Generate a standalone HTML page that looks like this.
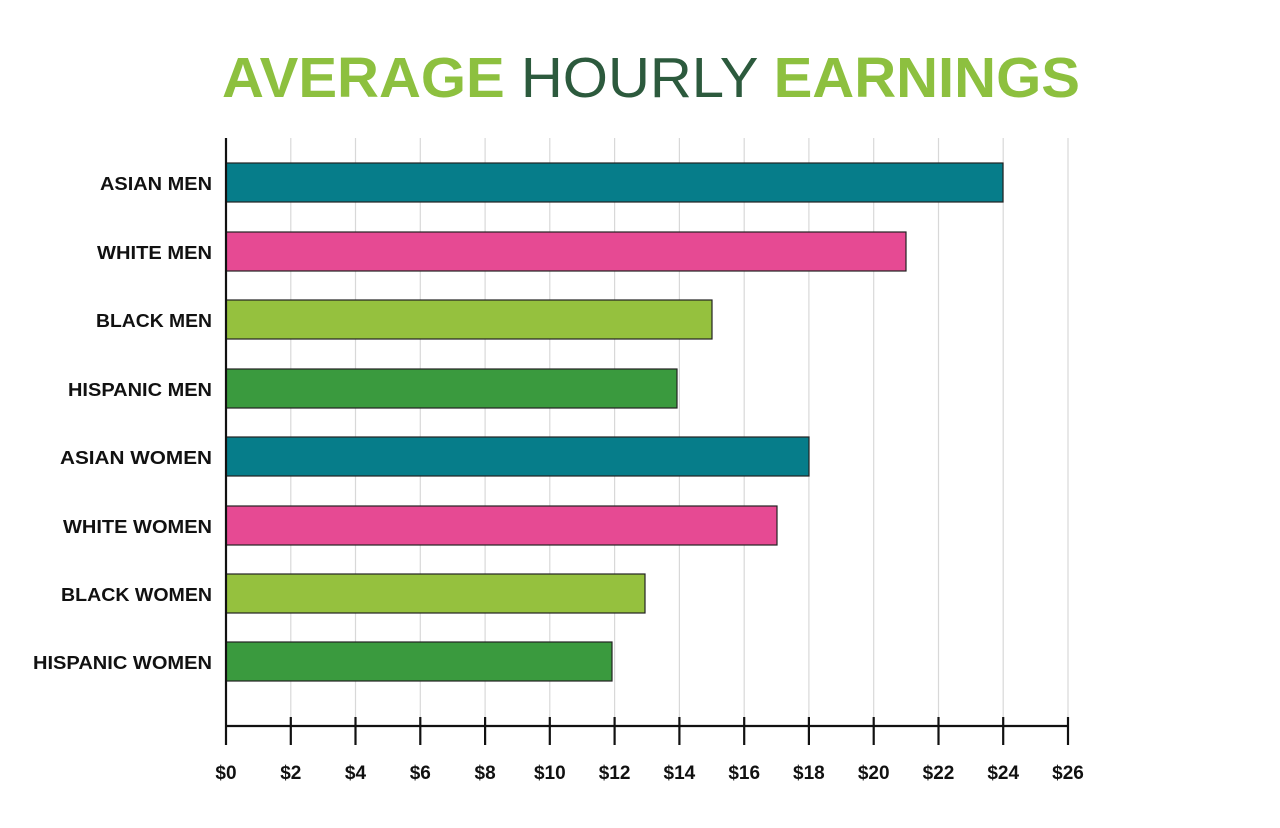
<!DOCTYPE html>
<html><head><meta charset="utf-8"><style>
html,body{margin:0;padding:0;background:#fff;}
svg{display:block;}
</style></head><body>
<svg width="1280" height="828" viewBox="0 0 1280 828" xmlns="http://www.w3.org/2000/svg" font-family="Liberation Sans, sans-serif">
<text x="651" y="97" text-anchor="middle" font-size="57" textLength="858" lengthAdjust="spacingAndGlyphs"><tspan fill="#8dc03f" font-weight="bold">AVERAGE</tspan><tspan fill="#2c5a3d"> HOURLY </tspan><tspan fill="#8dc03f" font-weight="bold">EARNINGS</tspan></text>
<g stroke="#d8d8d8" stroke-width="1.2">
<line x1="290.8" y1="138" x2="290.8" y2="726"/><line x1="355.5" y1="138" x2="355.5" y2="726"/><line x1="420.3" y1="138" x2="420.3" y2="726"/><line x1="485.1" y1="138" x2="485.1" y2="726"/><line x1="549.8" y1="138" x2="549.8" y2="726"/><line x1="614.6" y1="138" x2="614.6" y2="726"/><line x1="679.4" y1="138" x2="679.4" y2="726"/><line x1="744.2" y1="138" x2="744.2" y2="726"/><line x1="808.9" y1="138" x2="808.9" y2="726"/><line x1="873.7" y1="138" x2="873.7" y2="726"/><line x1="938.5" y1="138" x2="938.5" y2="726"/><line x1="1003.2" y1="138" x2="1003.2" y2="726"/><line x1="1068" y1="138" x2="1068" y2="726"/>
</g>
<g stroke="#222" stroke-width="1.2">
<rect x="226" y="163" width="777" height="39" fill="#067d8a"/>
<rect x="226" y="232" width="680" height="39" fill="#e64a93"/>
<rect x="226" y="300" width="486" height="39" fill="#95c13e"/>
<rect x="226" y="369" width="451" height="39" fill="#3a9a3e"/>
<rect x="226" y="437" width="583" height="39" fill="#067d8a"/>
<rect x="226" y="506" width="551" height="39" fill="#e64a93"/>
<rect x="226" y="574" width="419" height="39" fill="#95c13e"/>
<rect x="226" y="642" width="386" height="39" fill="#3a9a3e"/>
</g>
<g stroke="#111" stroke-width="2.2">
<line x1="226" y1="138" x2="226" y2="745"/>
<line x1="226" y1="726" x2="1068" y2="726"/>
<line x1="290.8" y1="717" x2="290.8" y2="745"/><line x1="355.5" y1="717" x2="355.5" y2="745"/><line x1="420.3" y1="717" x2="420.3" y2="745"/><line x1="485.1" y1="717" x2="485.1" y2="745"/><line x1="549.8" y1="717" x2="549.8" y2="745"/><line x1="614.6" y1="717" x2="614.6" y2="745"/><line x1="679.4" y1="717" x2="679.4" y2="745"/><line x1="744.2" y1="717" x2="744.2" y2="745"/><line x1="808.9" y1="717" x2="808.9" y2="745"/><line x1="873.7" y1="717" x2="873.7" y2="745"/><line x1="938.5" y1="717" x2="938.5" y2="745"/><line x1="1003.2" y1="717" x2="1003.2" y2="745"/><line x1="1068" y1="717" x2="1068" y2="745"/>
</g>
<g font-size="18" font-weight="bold" fill="#111" text-anchor="end" lengthAdjust="spacingAndGlyphs">
<text x="212" y="190" textLength="112" lengthAdjust="spacingAndGlyphs">ASIAN MEN</text>
<text x="212" y="259" textLength="115" lengthAdjust="spacingAndGlyphs">WHITE MEN</text>
<text x="212" y="327" textLength="116" lengthAdjust="spacingAndGlyphs">BLACK MEN</text>
<text x="212" y="396" textLength="144" lengthAdjust="spacingAndGlyphs">HISPANIC MEN</text>
<text x="212" y="464" textLength="152" lengthAdjust="spacingAndGlyphs">ASIAN  WOMEN</text>
<text x="212" y="533" textLength="149" lengthAdjust="spacingAndGlyphs">WHITE WOMEN</text>
<text x="212" y="601" textLength="151" lengthAdjust="spacingAndGlyphs">BLACK WOMEN</text>
<text x="212" y="669" textLength="179" lengthAdjust="spacingAndGlyphs">HISPANIC WOMEN</text>
</g>
<g font-size="19" font-weight="bold" fill="#111" text-anchor="middle">
<text x="226" y="779">$0</text><text x="290.8" y="779">$2</text><text x="355.5" y="779">$4</text><text x="420.3" y="779">$6</text><text x="485.1" y="779">$8</text><text x="549.8" y="779">$10</text><text x="614.6" y="779">$12</text><text x="679.4" y="779">$14</text><text x="744.2" y="779">$16</text><text x="808.9" y="779">$18</text><text x="873.7" y="779">$20</text><text x="938.5" y="779">$22</text><text x="1003.2" y="779">$24</text><text x="1068" y="779">$26</text>
</g>
</svg>
</body></html>
